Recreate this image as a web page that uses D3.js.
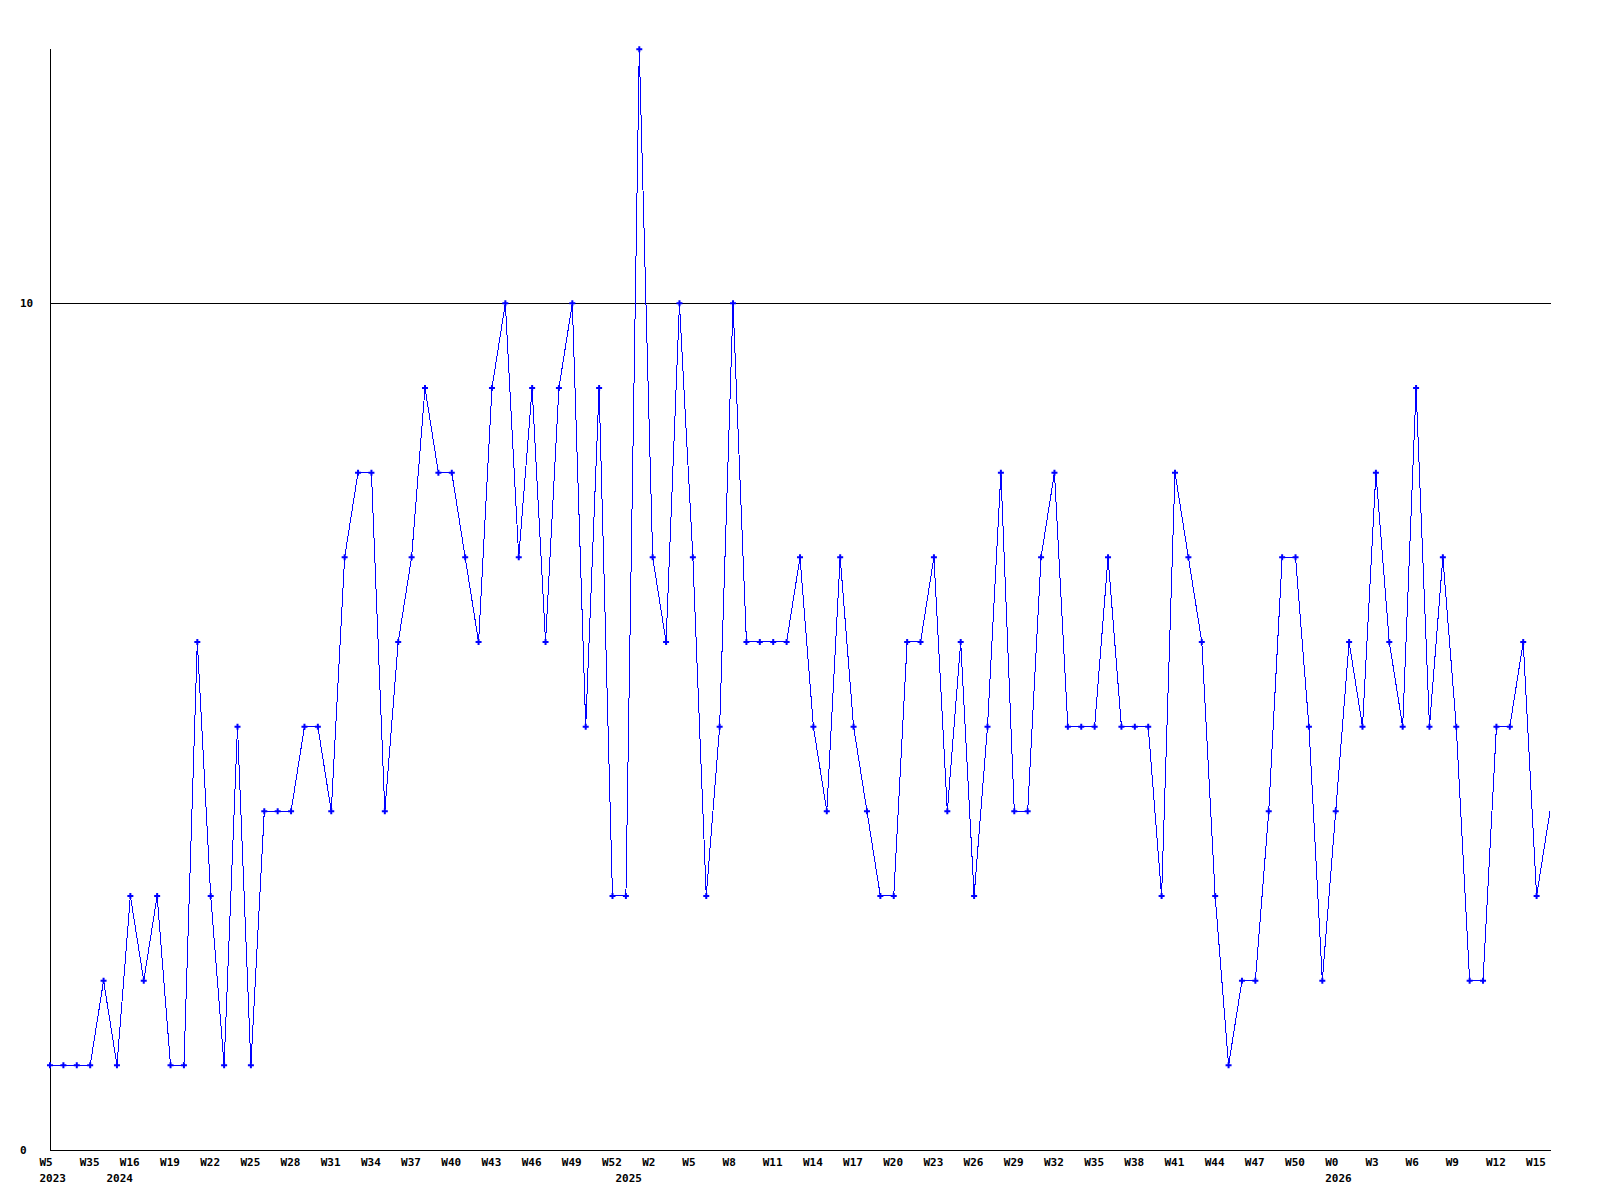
<!DOCTYPE html>
<html>
<head>
<meta charset="utf-8">
<script src="https://cdn.jsdelivr.net/npm/d3@7"></script>
<style>
  body { margin: 0; background: #fff; }
  text { font-family: "DejaVu Sans Mono", "Liberation Mono", monospace; font-weight: bold; font-size: 11px; fill: #000; }
</style>
</head>
<body>
<div id="wrap"></div>
<script>
//  weekly counts, one per point, oldest first
const values = [
  1, 1, 1, 1, 2, 1, 3, 2, 3, 1, 1,
  6, 3, 1, 5, 1, 4, 4, 4, 5, 5,
  4, 7, 8, 8, 4, 6, 7, 9, 8, 8,
  7, 6, 9, 10, 7, 9, 6, 9, 10, 5,
  9, 3, 3, 13, 7, 6, 10, 7, 3, 5,
  10, 6, 6, 6, 6, 7, 5, 4, 7, 5,
  4, 3, 3, 6, 6, 7, 4, 6, 3, 5,
  8, 4, 4, 7, 8, 5, 5, 5, 7, 5,
  5, 5, 3, 8, 7, 6, 3, 1, 2, 2,
  4, 7, 7, 5, 2, 4, 6, 5, 8, 6,
  5, 9, 5, 7, 5, 2, 2, 5, 5, 6,
  3, 4
];

//  week labels, written under every third point
const tickLabels = [
  "W5", "W35", "W16", "W19", "W22", "W25", "W28", "W31", "W34", "W37",
  "W40", "W43", "W46", "W49", "W52", "W2", "W5", "W8", "W11", "W14",
  "W17", "W20", "W23", "W26", "W29", "W32", "W35", "W38", "W41", "W44",
  "W47", "W50", "W0", "W3", "W6", "W9", "W12", "W15"
];
const tickEvery = 3;

//  year labels and the point where each year starts
const years = ["2023", "2024", "2025", "2026"];
const yearStart = [0, 5, 43, 96];

//  y axis labels
const yTicks = [0, 10];
const yMax = 13;

const svg = d3.select("#wrap").append("svg")
  .attr("width", 1600)
  .attr("height", 1200);

const x = d3.scalePoint().domain(d3.range(values.length)).range([50, 1550]);
const y = d3.scaleLinear().domain([0, yMax]).range([1150, 49.3]);

//  grid line at 10
svg.selectAll(".grid")
  .data(yTicks.filter(d => d > 0))
  .enter().append("line")
  .attr("x1", 50).attr("x2", 1551)
  .attr("y1", d => Math.round(y(d)) + 0.5)
  .attr("y2", d => Math.round(y(d)) + 0.5)
  .attr("stroke", "#000")
  .attr("shape-rendering", "crispEdges");

//  axes
svg.append("line")
  .attr("x1", 50.5).attr("x2", 50.5)
  .attr("y1", Math.round(y(yMax))).attr("y2", 1150.5)
  .attr("stroke", "#000").attr("shape-rendering", "crispEdges");
svg.append("line")
  .attr("x1", 50).attr("x2", 1551)
  .attr("y1", 1150.5).attr("y2", 1150.5)
  .attr("stroke", "#000").attr("shape-rendering", "crispEdges");

svg.selectAll(".ylab")
  .data(yTicks)
  .enter().append("text")
  .attr("x", 20)
  .attr("y", d => y(d) + 4)
  .text(d => d);

//  x labels
svg.selectAll(".xlab")
  .data(tickLabels)
  .enter().append("text")
  .attr("x", (d, i) => x(i * tickEvery) - 10.5)
  .attr("y", 1166)
  .text(d => d);

svg.selectAll(".year")
  .data(years)
  .enter().append("text")
  .attr("x", (d, i) => x(yearStart[i]) - 10.5)
  .attr("y", 1182)
  .text(d => d);

//  the series line
const line = d3.line()
  .x((d, i) => x(i))
  .y(d => y(d));

svg.append("path")
  .datum(values)
  .attr("d", line)
  .attr("fill", "none")
  .attr("stroke", "#0000ff")
  .attr("stroke-width", 1)
  .attr("shape-rendering", "crispEdges");

//  point markers (the last, unfinished week has none)
svg.selectAll(".pt")
  .data(values.slice(0, -1))
  .enter().append("path")
  .attr("d", d3.symbol().type(d3.symbolCross).size(20))
  .attr("transform", (d, i) => "translate(" + x(i) + "," + y(d) + ")")
  .attr("fill", "#0000ff");
</script>
</body>
</html>
